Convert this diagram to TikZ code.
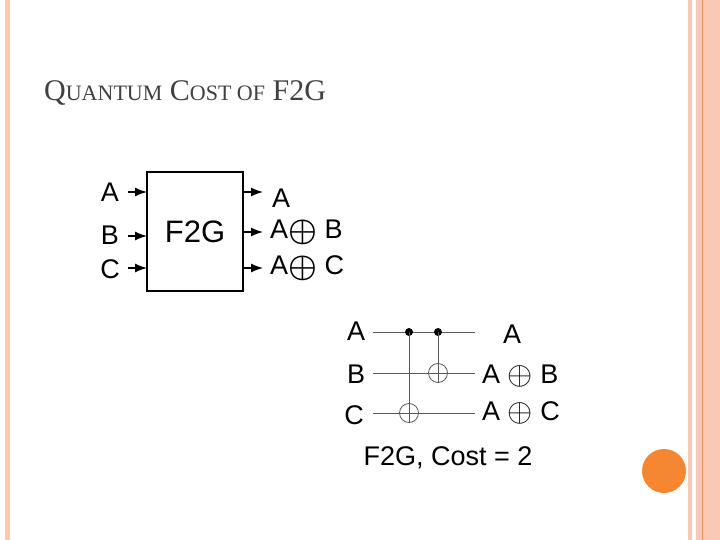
\documentclass[tikz,border=0pt]{standalone}
\usepackage{fontspec}
\usetikzlibrary{arrows.meta}
\setmainfont{Liberation Serif}
\newfontfamily\arial{Liberation Sans}
\definecolor{stripe}{HTML}{F9C9B6}
\definecolor{oline}{HTML}{E8905F}
\definecolor{dot}{HTML}{F58733}
\definecolor{title}{HTML}{404040}
\newcommand{\bigox}{\raisebox{-0.06em}{\scalebox{1.3}{$\oplus$}}}
\newcommand{\boldox}{\raisebox{-0.06em}{\scalebox{1.3}{$\boldsymbol{\oplus}$}}}
\newcommand{\smc}[1]{{\fontsize{22}{22}\selectfont #1}}
\usepackage{amsmath}
\begin{document}
\begin{tikzpicture}[x=1pt,y=-1pt,
  lbl/.style={font=\arial\fontsize{27}{27}\selectfont, inner sep=0pt},
  wire/.style={draw=gray!70!black, line width=0.9pt},
  arr/.style={-{Latex[length=12pt,width=9pt]}, line width=1.3pt},
  oplusn/.style={circle, draw=gray!70!black, line width=0.8pt, minimum size=19pt, inner sep=0pt},
  ctrl/.style={circle, fill=black, minimum size=8pt, inner sep=0pt}]
\useasboundingbox (0,0) rectangle (720,540);
\fill[white] (0,0) rectangle (720,540);
% borders
\fill[stripe] (5,0) rectangle (10,540);
\fill[stripe] (688,0) rectangle (692,540);
\fill[stripe] (696,0) rectangle (720,540);
\fill[oline] (701.5,0) rectangle (703,540);
\node[circle, fill=dot, minimum size=44pt, inner sep=0pt] (deco) at (664,471) {};
% title
\node[anchor=base west, inner sep=0pt, text=title, font=\fontsize{30}{30}\selectfont] (ttl) at (44,101) {Q\smc{UANTUM} C\smc{OST OF} F2G};
% block
\node[draw, line width=1.3pt, minimum width=96pt, minimum height=119pt, inner sep=0pt, font=\arial\fontsize{31}{31}\selectfont] (box) at (195,231.5) {F2G};
\node[lbl] (iA) at (110,192) {A};
\node[lbl] (iB) at (110,235) {B};
\node[lbl] (iC) at (110,269) {C};
\coordinate (bA) at (147,192); \coordinate (bB) at (147,236); \coordinate (bC) at (147,268);
\draw[arr] (128,192) -- (bA);
\draw[arr] (128,236) -- (bB);
\draw[arr] (128,268) -- (bC);
\coordinate (eA) at (263,192); \coordinate (eB) at (263,232); \coordinate (eC) at (263,268);
\draw[arr] (243,192) -- (eA);
\draw[arr] (243,232) -- (eB);
\draw[arr] (243,268) -- (eC);
\node[lbl, anchor=west] (oA) at (272,198) {A};
\node[lbl, anchor=west] (oB) at (270,232) {A\boldox\ B};
\node[lbl, anchor=west] (oC) at (270,268) {A\boldox\ C};
% circuit
\node[lbl] (cA) at (356,331) {A};
\node[lbl] (cB) at (356,374) {B};
\node[lbl] (cC) at (354,415) {C};
\coordinate (w1s) at (373,332); \coordinate (w1e) at (475,332);
\coordinate (w2s) at (373,373); \coordinate (w2e) at (475,373);
\coordinate (w3s) at (373,413); \coordinate (w3e) at (475,413);
\draw[wire] (w1s) -- (w1e);
\draw[wire] (w2s) -- (w2e);
\draw[wire] (w3s) -- (w3e);
\node[ctrl] (c1) at (409,332) {};
\node[ctrl] (c2) at (438,332) {};
\node[oplusn] (t1) at (409,413) {};
\node[oplusn] (t2) at (438,373) {};
\draw[wire] (c1.center) -- (t1.south);
\draw[wire] (c2.center) -- (t2.south);
\draw[wire] (t1.west) -- (t1.east);
\draw[wire] (t2.west) -- (t2.east);
\node[lbl] (rA) at (512,334) {A};
\node[lbl, anchor=west] (rB) at (482,376) {A \bigox\ B};
\node[lbl, anchor=west] (rC) at (482,413) {A \bigox\ C};
\node[lbl] (cap) at (448,458) {F2G, Cost = 2};
\end{tikzpicture}
\end{document}
